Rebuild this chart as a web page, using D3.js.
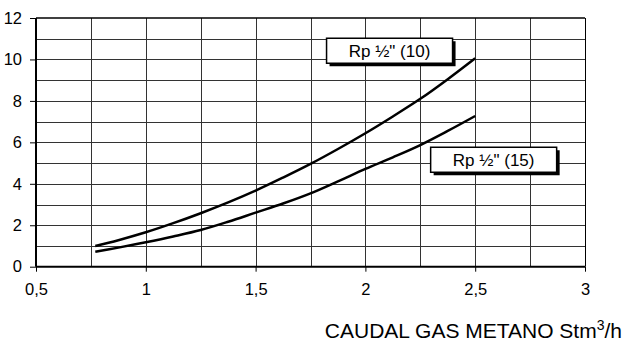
<!DOCTYPE html>
<html><head><meta charset="utf-8">
<script src="https://cdn.jsdelivr.net/npm/d3@7"></script>
<style>body{margin:0;background:#fff}svg{display:block;font-family:"Liberation Sans",Arial,sans-serif}</style>
</head><body><svg id="c" width="642" height="347"></svg>
<script>
const xValues = [0.77, 0.875, 1.0, 1.125, 1.25, 1.375, 1.5, 1.625, 1.75, 1.875, 2.0, 2.125, 2.25, 2.375, 2.5];
const series10 = [1.0, 1.28, 1.66, 2.1, 2.58, 3.1, 3.67, 4.3, 4.96, 5.68, 6.44, 7.25, 8.1, 9.05, 10.06];
const series15 = [0.72, 0.92, 1.18, 1.46, 1.77, 2.17, 2.61, 3.05, 3.54, 4.12, 4.72, 5.28, 5.87, 6.55, 7.27];
const xTicks = [0.5, 1, 1.5, 2, 2.5, 3];
const yTicks = [0, 2, 4, 6, 8, 10, 12];
const legendLabels = ['Rp ½" (10)', 'Rp ½" (15)'];
const xTitle = "CAUDAL GAS METANO Stm";

const FONT = "'Liberation Sans', Arial, sans-serif";
const svg = d3.select("#c");
const L = 36, R = 585, T = 18, B = 266.7;
const x = d3.scaleLinear().domain([0.5, 3]).range([L, R]);
const y = d3.scaleLinear().domain([0, 12]).range([B, T]);
const g = svg.append("g");

// grid
d3.range(0.75, 3.0, 0.25).forEach(v => {
  g.append("line").attr("x1", Math.round(x(v)) + 0.5).attr("x2", Math.round(x(v)) + 0.5)
    .attr("y1", T).attr("y2", B).attr("stroke", "#333").attr("stroke-width", 1);
});
d3.range(1, 12, 1).forEach(v => {
  g.append("line").attr("y1", Math.round(y(v)) + 0.5).attr("y2", Math.round(y(v)) + 0.5)
    .attr("x1", L).attr("x2", R).attr("stroke", "#333").attr("stroke-width", 1);
});
g.append("line").attr("x1", R + 0.5).attr("x2", R + 0.5).attr("y1", T).attr("y2", B).attr("stroke", "#000");
g.append("line").attr("x1", L).attr("x2", R).attr("y1", T).attr("y2", T).attr("stroke", "#000").attr("stroke-width", 1.5);

// axes
const xAxis = d3.axisBottom(x).tickValues(xTicks).tickSize(5).tickPadding(12)
  .tickFormat(d => String(d).replace(".", ","));
const gx = svg.append("g").attr("transform", `translate(0,${B})`).call(xAxis)
  .attr("font-size", 16.5).attr("font-family", FONT);
gx.select(".domain").attr("stroke-width", 2).attr("d", `M${L},0H${R}`);
gx.selectAll("text").attr("fill", "#000");

const yAxis = d3.axisLeft(y).tickValues(yTicks).tickSize(6).tickPadding(8);
const gy = svg.append("g").attr("transform", `translate(${L},0)`).call(yAxis)
  .attr("font-size", 16.5).attr("font-family", FONT);
gy.select(".domain").attr("stroke-width", 2).attr("d", `M0,${B}V${T}`);
gy.selectAll("text").attr("fill", "#000");

// lines
const line = d3.line().x((d, i) => x(xValues[i])).y(d => y(d)).curve(d3.curveCatmullRom);
[series10, series15].forEach(s => {
  svg.append("path").datum(s).attr("d", line).attr("fill", "none")
    .attr("stroke", "#000").attr("stroke-width", 2.5);
});

// legend boxes
const boxes = [
  {label: legendLabels[0], cx: 2.11, cy: 10.42},
  {label: legendLabels[1], cx: 2.584, cy: 5.16}
];
boxes.forEach(b => {
  const w = 126, h = 25;
  const bx = x(b.cx) - w / 2, by = y(b.cy) - h / 2;
  svg.append("rect").attr("x", bx + 3).attr("y", by + 3).attr("width", w).attr("height", h).attr("fill", "#000");
  svg.append("rect").attr("x", bx).attr("y", by).attr("width", w).attr("height", h)
    .attr("fill", "#fff").attr("stroke", "#000").attr("stroke-width", 1.5);
  svg.append("text").attr("x", bx + w / 2).attr("y", by + h / 2 + 6).attr("text-anchor", "middle")
    .attr("font-size", 17).attr("font-family", FONT).text(b.label);
});

// x title
const t = svg.append("text").attr("x", 622).attr("y", 338).attr("text-anchor", "end")
  .attr("font-size", 21).attr("font-family", FONT);
t.append("tspan").text(xTitle);
t.append("tspan").attr("font-size", 14).attr("dy", -8).text("3");
t.append("tspan").attr("dy", 8).text("/h");
</script></body></html>
